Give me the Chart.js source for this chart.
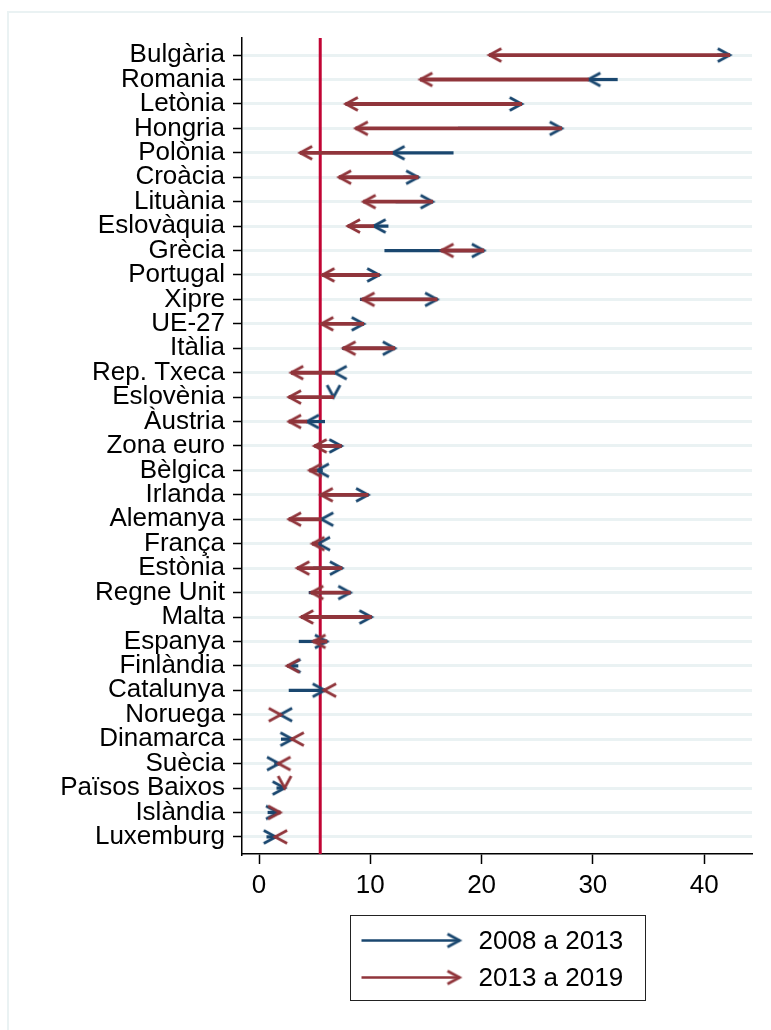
<!DOCTYPE html>
<html>
<head>
<meta charset="utf-8">
<script src="https://cdn.jsdelivr.net/npm/chart.js@4.4.1/dist/chart.umd.min.js"></script>
<style>
  body { margin: 0; background: #fff; }
  #wrap { position: relative; width: 771px; height: 1030px; overflow: hidden; background: #fff; }
  #frame { position: absolute; left: 7px; top: 11px; width: 900px; height: 1200px; border: 2px solid #eaf2f3; }
  canvas { position: absolute; left: 0; top: 0; }
</style>
</head>
<body>
<div id="wrap"><div id="frame"></div><canvas id="c" width="771" height="1030"></canvas></div>
<script>
// Data (taxa, %)
var countries = ["Bulgària", "Romania", "Letònia", "Hongria", "Polònia", "Croàcia", "Lituània", "Eslovàquia",
  "Grècia", "Portugal", "Xipre", "UE-27", "Itàlia", "Rep. Txeca", "Eslovènia", "Àustria", "Zona euro",
  "Bèlgica", "Irlanda", "Alemanya", "França", "Estònia", "Regne Unit", "Malta", "Espanya", "Finlàndia",
  "Catalunya", "Noruega", "Dinamarca", "Suècia", "Països Baixos", "Islàndia", "Luxemburg"];
var val2008 = [41.2, 32.2, 19.0, 17.9, 17.45, 13.0, 12.3, 11.6, 11.3, 9.7, 9.1, 8.4, 7.5, 6.9, 6.7, 5.9, 5.9,
  5.7, 5.5, 5.8, 5.4, 4.9, 4.5, 4.0, 3.6, 3.5, 2.7, 2.1, 2.0, 1.4, 1.6, 0.8, 0.7];
var val2013 = [42.3, 29.6, 23.6, 27.2, 12.0, 14.3, 15.6, 10.3, 20.2, 10.8, 16.0, 9.4, 12.2, 6.8, 6.7, 4.3, 7.4,
  5.2, 9.8, 5.6, 5.3, 7.45, 8.2, 10.1, 6.1, 2.65, 5.9, 1.9, 3.0, 1.8, 2.3, 1.7, 1.5];
var val2019 = [20.7, 14.5, 7.8, 8.7, 3.7, 7.2, 9.4, 8.0, 16.4, 5.7, 9.3, 5.6, 7.6, 2.9, 2.7, 2.7, 5.0,
  4.55, 5.55, 2.7, 4.8, 3.45, 4.7, 3.8, 4.9, 2.55, 5.85, 1.95, 2.95, 1.75, 2.3, 1.9, 1.45];
var refLine = 5.5;
var xTicks = [0, 10, 20, 30, 40];
var seriesNames = ["2008 a 2013", "2013 a 2019"];

var blue = "#1a476f";
var red = "#90353b";
Chart.defaults.font.family = "'Liberation Sans', Arial, Helvetica, sans-serif";

// arrow head (open chevron, vertex at centre)
function makeHead(color) {
  var c = document.createElement("canvas");
  c.width = 32; c.height = 32;
  var g = c.getContext("2d");
  g.strokeStyle = color;
  g.lineWidth = 2.8;
  g.beginPath();
  g.moveTo(16 - 12, 16 - 6.5);
  g.lineTo(16, 16);
  g.lineTo(16 - 12, 16 + 6.5);
  g.stroke();
  return c;
}
var headBlue = makeHead(blue);
var headRed = makeHead(red);

function dir(from, to) {
  return function(ctx) {
    var i = ctx.dataIndex;
    if (to[i] > from[i]) return 0;
    if (to[i] < from[i]) return 180;
    return 90;
  };
}

var refLinePlugin = {
  id: "refLine",
  beforeDatasetsDraw: function(chart) {
    var ctx = chart.ctx, a = chart.chartArea;
    var px = chart.scales.x.getPixelForValue(refLine);
    ctx.save();
    ctx.strokeStyle = "#c10534";
    ctx.lineWidth = 3;
    ctx.beginPath();
    ctx.moveTo(px, a.top);
    ctx.lineTo(px, a.bottom);
    ctx.stroke();
    ctx.restore();
  }
};

var legendPlugin = {
  id: "arrowLegend",
  afterDraw: function(chart) {
    var ctx = chart.ctx, a = chart.chartArea;
    var w = 295, h = 85;
    var left = Math.round((a.left + a.right) / 2 - w / 2) + 0.5;
    var top = 915.5;
    ctx.save();
    ctx.strokeStyle = "#222";
    ctx.lineWidth = 1;
    ctx.strokeRect(left, top, w, h);
    var cols = [blue, red], heads = [headBlue, headRed];
    for (var k = 0; k < 2; k++) {
      var y = top + 25 + k * 37;
      ctx.strokeStyle = cols[k];
      ctx.lineWidth = 2.5;
      ctx.beginPath();
      ctx.moveTo(left + 11, y);
      ctx.lineTo(left + 109, y);
      ctx.stroke();
      ctx.drawImage(heads[k], left + 109 - 16, y - 16);
      ctx.fillStyle = "#000";
      ctx.font = "26px 'Liberation Sans', Arial, sans-serif";
      ctx.textBaseline = "middle";
      ctx.fillText(seriesNames[k], left + 128, y + 1);
    }
    ctx.restore();
  }
};

new Chart(document.getElementById("c"), {
  type: "bar",
  data: {
    datasets: [
      {
        type: "scatter", label: seriesNames[1], order: 0,
        data: countries.map(function(c, i) { return { x: val2019[i], y: i }; }),
        pointStyle: headRed, pointRadius: 6, pointRotation: dir(val2013, val2019)
      },
      {
        type: "bar", label: seriesNames[1], order: 1, indexAxis: "y", grouped: false,
        data: countries.map(function(c, i) { return { x: [val2013[i], val2019[i]], y: i }; }),
        backgroundColor: red, borderWidth: 0, barThickness: 3.2
      },
      {
        type: "scatter", label: seriesNames[0], order: 2,
        data: countries.map(function(c, i) { return { x: val2013[i], y: i }; }),
        pointStyle: headBlue, pointRadius: 6, pointRotation: dir(val2008, val2013)
      },
      {
        type: "bar", label: seriesNames[0], order: 3, indexAxis: "y", grouped: false,
        data: countries.map(function(c, i) { return { x: [val2008[i], val2013[i]], y: i }; }),
        backgroundColor: blue, borderWidth: 0, barThickness: 2.6
      }
    ]
  },
  options: {
    responsive: false,
    animation: false,
    events: [],
    layout: { padding: { top: 38, right: 19, bottom: 116, left: 0 } },
    plugins: { legend: { display: false }, tooltip: { enabled: false } },
    scales: {
      x: {
        type: "linear", min: -1.53, max: 44.3, offset: false,
        afterBuildTicks: function(s) { s.ticks = xTicks.map(function(v) { return { value: v }; }); },
        afterFit: function(s) { s.height = 60; },
        ticks: { color: "#000", font: { size: 26 }, padding: 6, autoSkip: false, maxRotation: 0 },
        grid: { offset: false, drawOnChartArea: false, tickLength: 10, tickColor: "#000", tickWidth: 1.5 },
        border: { color: "#000", width: 1.5 }
      },
      y: {
        type: "linear", reverse: true, min: -0.7, max: 32.7, offset: false,
        afterBuildTicks: function(s) { s.ticks = countries.map(function(c, i) { return { value: i }; }); },
        afterFit: function(s) { s.width = 242; },
        ticks: {
          color: "#000", font: { size: 26 }, padding: 8, autoSkip: false,
          callback: function(v) { return countries[v]; }
        },
        grid: { offset: false, color: "#eaf2f3", lineWidth: 3, tickLength: 9, tickColor: "#000", tickWidth: 1.5 },
        border: { color: "#000", width: 1.5 }
      }
    }
  },
  plugins: [refLinePlugin, legendPlugin]
});
</script>
</body>
</html>
